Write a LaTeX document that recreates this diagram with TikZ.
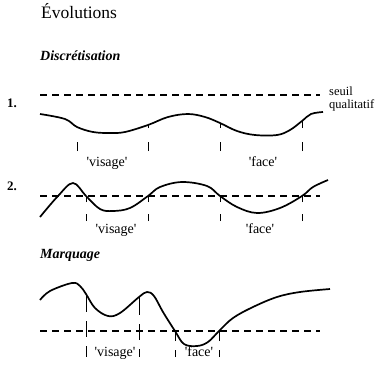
\documentclass[tikz,border=0pt]{standalone}
\usepackage{fontspec}
\setmainfont{Liberation Serif}
\begin{document}
\begin{tikzpicture}[x=1pt,y=-1pt,
  curve/.style={line width=1.7pt,line join=round},
  seuilline/.style={line width=1.7pt,dash pattern=on 7pt off 5pt},
  tick/.style={line width=0.9pt},
  lbl/.style={font=\fontsize{14}{16}\selectfont,anchor=base,inner sep=0pt},
  hdr/.style={font=\fontsize{14}{16}\selectfont\bfseries\itshape,anchor=base west,inner sep=0pt},
  num/.style={font=\fontsize{13}{15}\selectfont\bfseries,anchor=base west,inner sep=0pt},
  side/.style={font=\fontsize{12.5}{14}\selectfont,anchor=base west,inner sep=0pt}]
\useasboundingbox[fill=white] (0,0) rectangle (390,370);
\node[anchor=base west,inner sep=0pt,font=\fontsize{17.5}{20}\selectfont] (title) at (41,18) {Évolutions};
\node[hdr] (discr) at (40,60) {Discrétisation};
\node[hdr] (marq) at (40,258) {Marquage};
\node[num] (n1) at (7,107) {1.};
\node[num] (n2) at (7,190) {2.};
\node[side] (seuil) at (329,95.5) {seuil};
\node[side] (qual) at (329,108.5) {qualitatif};

% row 1
\coordinate (l1a) at (40,95); \coordinate (l1b) at (320,95);
\draw[seuilline] (l1a) -- (l1b);
\coordinate (a1) at (77,127); \coordinate (b1) at (148,125);
\coordinate (c1) at (220,123); \coordinate (d1) at (302,121);
\draw[curve] plot[smooth,tension=0.6] coordinates {(40,114) (65,119) (a1) (93,132) (110,133) (125,132) (b1) (168,117) (188,114) (205,117) (c1) (237,131) (255,135) (277,135) (290,130) (d1) (311,114) (323,112)};
\foreach \p in {a1,b1,c1,d1}{
  \coordinate (\p bot) at (\p |- 0,151);
  \draw[tick,dash pattern=on 9pt off 14pt] (\p bot) -- (\p);
}
\node[lbl] (v1) at (107,166) {\textquotesingle visage\textquotesingle};
\node[lbl] (f1) at (263,166) {\textquotesingle face\textquotesingle};

% row 2
\coordinate (l2a) at (40,196); \coordinate (l2b) at (320,196);
\draw[seuilline] (l2a) -- (l2b);
\coordinate (a2) at (86,196); \coordinate (b2) at (148,196);
\coordinate (c2) at (220,196); \coordinate (d2) at (302,196);
\draw[curve] plot[smooth,tension=0.6] coordinates {(40,217) (58,196) (73,183) (a2) (100,209) (113,211) (130,208) (b2) (160,187) (182,182) (207,186) (c2) (237,207) (257,213) (280,208) (d2) (313,187) (328,180)};
\foreach \p in {a2,b2,c2,d2}{
  \coordinate (\p bot) at (\p |- 0,221);
  \draw[tick,dash pattern=on 7pt off 12pt] (\p bot) -- (\p);
}
\node[lbl] (v2) at (116,233) {\textquotesingle visage\textquotesingle};
\node[lbl] (f2) at (260,233) {\textquotesingle face\textquotesingle};

% row 3
\coordinate (l3a) at (40,331); \coordinate (l3b) at (320,331);
\draw[seuilline] (l3a) -- (l3b);
\coordinate (a3) at (86,294); \coordinate (b3) at (139,297);
\coordinate (c3) at (175,331); \coordinate (d3) at (219,331);
\draw[curve] plot[smooth,tension=0.6] coordinates {(40,300) (50,291) (72,283) (80,286) (a3) (95,308) (108,316) (120,313) (b3) (147,292) (154,296) (163,312) (c3) (184,344) (197,346) (208,342) (d3) (233,318) (253,307) (277,297) (300,292) (330,289)};
\foreach \p in {a3,b3}{
  \coordinate (\p bot) at (\p |- 0,357);
  \draw[tick,dash pattern=on 18pt off 9pt on 16pt off 9pt] (\p) -- (\p bot);
}
\foreach \p in {c3,d3}{
  \coordinate (\p bot) at (\p |- 0,357);
  \draw[tick,dash pattern=on 7pt off 9pt on 16pt off 9pt] (\p bot) -- (\p);
}
\node[lbl] (v3) at (115,356) {\textquotesingle visage\textquotesingle};
\node[lbl] (f3) at (199,356) {\textquotesingle face\textquotesingle};
\end{tikzpicture}
\end{document}
